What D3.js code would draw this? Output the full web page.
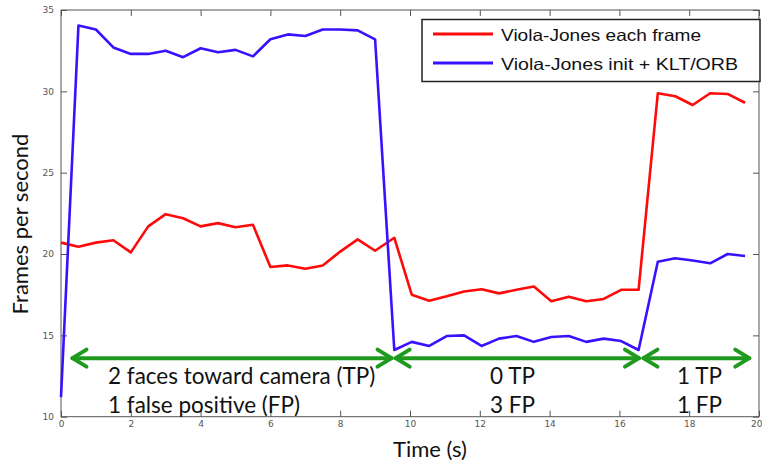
<!DOCTYPE html>
<html>
<head>
<meta charset="utf-8">
<script src="https://cdn.jsdelivr.net/npm/d3@7/dist/d3.min.js"></script>
<style>
  html, body { margin: 0; padding: 0; background: #fff; }
  svg { display: block; }
</style>
</head>
<body>
<svg id="chart" width="762" height="465"></svg>
<script>
// ---- data ----
const times = [0, 0.5, 1.0, 1.5, 2.0, 2.5, 3.0, 3.5, 4.0, 4.5, 5.0, 5.5, 6.0, 6.5, 7.0, 7.5, 8.0, 8.5, 9.0, 9.55,
  10.05, 10.55, 11.05, 11.55, 12.05, 12.55, 13.05, 13.55, 14.05, 14.55, 15.05, 15.55, 16.05, 16.55,
  17.1, 17.6, 18.1, 18.6, 19.1, 19.6];
const vjEachFrame = [20.7, 20.45, 20.7, 20.85, 20.1, 21.7, 22.45, 22.2, 21.7, 21.9, 21.65, 21.8, 19.2, 19.3, 19.1, 19.3, 20.15, 20.9, 20.2, 21.0,
  17.5, 17.13, 17.4, 17.7, 17.83, 17.58, 17.8, 18.0, 17.1, 17.38, 17.1, 17.24, 17.8, 17.8,
  29.88, 29.7, 29.16, 29.88, 29.84, 29.3];
const vjInitKlt = [11.2, 34.05, 33.8, 32.7, 32.3, 32.3, 32.5, 32.1, 32.65, 32.4, 32.55, 32.15, 33.2, 33.5, 33.4, 33.8, 33.8, 33.75, 33.2, 14.1,
  14.6, 14.35, 14.96, 15.0, 14.35, 14.8, 14.96, 14.6, 14.9, 14.96, 14.6, 14.8, 14.65, 14.1,
  19.53, 19.74, 19.6, 19.43, 20.0, 19.88];
const seriesNames = ["Viola-Jones each frame", "Viola-Jones init + KLT/ORB"];
const xTicks = [0, 2, 4, 6, 8, 10, 12, 14, 16, 18, 20];
const yTicks = [10, 15, 20, 25, 30, 35];
const xLabel = "Time (s)";
const yLabel = "Frames per second";
// annotation spans (in seconds) and their texts
const spanStarts = [0.3, 9.56, 16.66];
const spanEnds = [9.5, 16.59, 19.75];
const spanLine1 = ["2 faces toward camera (TP)", "0 TP", "1 TP"];
const spanLine2 = ["1 false positive (FP)", "3 FP", "1 FP"];
const arrowLevel = 13.6;

// ---- layout ----
const svg = d3.select("#chart");
const X0 = 61, X1 = 759, Y0 = 416.7, Y1 = 10;
const x = d3.scaleLinear().domain([0, 20]).range([X0, X1]);
const y = d3.scaleLinear().domain([10, 35]).range([Y0, Y1]);
const axisColor = "#555";

// frame
svg.append("rect").attr("x", X0).attr("y", Y1).attr("width", X1 - X0).attr("height", Y0 - Y1)
  .attr("fill", "none").attr("stroke", axisColor).attr("stroke-width", 1);

function styleAxis(g, labels) {
  g.select(".domain").remove();
  g.selectAll(".tick line").attr("stroke", axisColor);
  g.selectAll(".tick text").attr("fill", "#555").attr("font-family", "DejaVu Sans").attr("font-size", 9);
  if (!labels) g.selectAll(".tick text").remove();
}
svg.append("g").attr("transform", `translate(0,${Y0})`)
  .call(d3.axisBottom(x).tickValues(xTicks).tickFormat(d3.format("d")).tickSize(-6).tickPadding(4))
  .call(g => styleAxis(g, true))
  .call(g => g.selectAll(".tick text").filter(d => d === 20).attr("text-anchor", "end").attr("dx", 3));
svg.append("g").attr("transform", `translate(0,${Y1})`)
  .call(d3.axisTop(x).tickValues(xTicks).tickSize(-6))
  .call(g => styleAxis(g, false));
svg.append("g").attr("transform", `translate(${X0},0)`)
  .call(d3.axisLeft(y).tickValues(yTicks).tickFormat(d3.format("d")).tickSize(-6).tickPadding(7))
  .call(g => styleAxis(g, true));
svg.append("g").attr("transform", `translate(${X1},0)`)
  .call(d3.axisRight(y).tickValues(yTicks).tickSize(-6))
  .call(g => styleAxis(g, false));

// lines
const colors = ["#ff0a0a", "#3a10ff"];
const line = d3.line().x((d, i) => x(times[i])).y(d => y(d));
[vjEachFrame, vjInitKlt].forEach((s, k) => {
  svg.append("path").datum(s).attr("d", line).attr("fill", "none")
    .attr("stroke", colors[k]).attr("stroke-width", 2.6).attr("stroke-linejoin", "round");
});

// legend
const lg = svg.append("g");
lg.append("rect").attr("x", 422).attr("y", 19.5).attr("width", 338).attr("height", 62)
  .attr("fill", "#fff").attr("stroke", "#222").attr("stroke-width", 1.5);
seriesNames.forEach((n, k) => {
  const ly = 34 + k * 29;
  lg.append("line").attr("x1", 433).attr("x2", 493).attr("y1", ly).attr("y2", ly)
    .attr("stroke", colors[k]).attr("stroke-width", 3);
  lg.append("text").attr("x", 501).attr("y", ly + 6.5).text(n)
    .attr("font-family", "Liberation Sans, Arial, sans-serif").attr("font-size", 16.5).attr("fill", "#111")
    .attr("textLength", k === 0 ? 200 : 237).attr("lengthAdjust", "spacingAndGlyphs");
});

// annotation arrows
const green = "#1f9a1f";
const ay = y(arrowLevel);
const ag = svg.append("g").attr("stroke", green).attr("stroke-width", 4).attr("fill", "none")
  .attr("stroke-linecap", "round").attr("stroke-linejoin", "round");
spanStarts.forEach((s, i) => {
  const a = x(s), b = x(spanEnds[i]);
  ag.append("line").attr("x1", a + 1).attr("x2", b - 1).attr("y1", ay).attr("y2", ay);
  ag.append("path").attr("d", `M${a + 15},${ay - 8.5}L${a + 1},${ay}L${a + 15},${ay + 8.5}`);
  ag.append("path").attr("d", `M${b - 15},${ay - 8.5}L${b - 1},${ay}L${b - 15},${ay + 8.5}`);
});

// annotation texts
const textStarts = [108, 490, 677];
const tfont = "Lato, 'Open Sans', sans-serif";
spanLine1.forEach((t, i) => {
  svg.append("text").attr("x", textStarts[i]).attr("y", 384).text(t)
    .attr("font-family", tfont).attr("font-size", 22.5).attr("fill", "#111");
  svg.append("text").attr("x", textStarts[i]).attr("y", 413).text(spanLine2[i])
    .attr("font-family", tfont).attr("font-size", 22.5).attr("fill", "#111");
});

// axis titles
svg.append("text").attr("x", 430).attr("y", 457).attr("text-anchor", "middle").text(xLabel)
  .attr("font-family", tfont).attr("font-size", 22).attr("fill", "#111");
svg.append("text").attr("transform", "translate(28,224) rotate(-90)").attr("text-anchor", "middle").text(yLabel)
  .attr("font-family", tfont).attr("font-size", 22).attr("fill", "#111");
</script>
</body>
</html>
